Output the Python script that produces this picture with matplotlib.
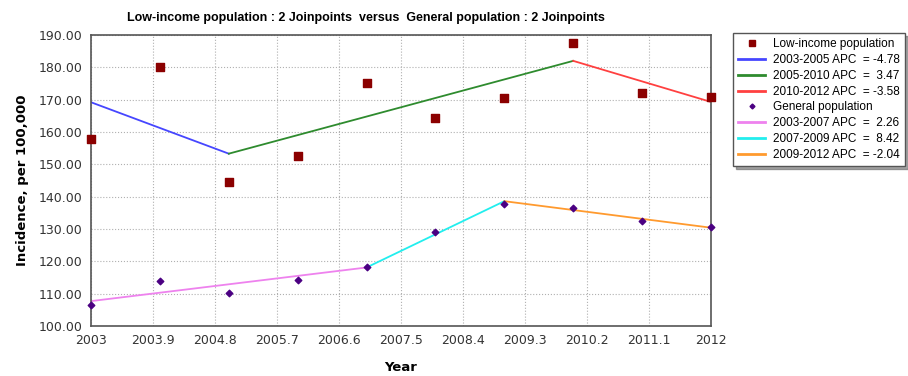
import numpy as np
import matplotlib.pyplot as plt
from matplotlib.lines import Line2D

# dados
years = [2003, 2004, 2005, 2006, 2007, 2008, 2009, 2010, 2011, 2012]
low_income = [157.7, 180.2, 144.6, 152.5, 175.3, 164.3, 170.5, 187.6, 172.0, 170.7]
general = [106.5, 113.9, 110.1, 114.2, 118.4, 129.2, 137.7, 136.4, 132.5, 130.5]

# joinpoints (ano, valor ajustado)
low_jp_years = [2003, 2005, 2010, 2012]
low_jp_values = [169.2, 153.3, 182.0, 169.3]
gen_jp_years = [2003, 2007, 2009, 2012]
gen_jp_values = [107.7, 118.1, 138.6, 130.4]

low_labels = ["2003-2005 APC  = -4.78", "2005-2010 APC  =  3.47", "2010-2012 APC  = -3.58"]
gen_labels = ["2003-2007 APC  =  2.26", "2007-2009 APC  =  8.42", "2009-2012 APC  = -2.04"]
low_colors = ["#4646ff", "#2e8b2e", "#ff4040"]
gen_colors = ["#ee82ee", "#22eeee", "#ff9a2e"]

xticks = [2003, 2003.9, 2004.8, 2005.7, 2006.6, 2007.5, 2008.4, 2009.3, 2010.2, 2011.1, 2012]
xtick_labels = ["2003", "2003.9", "2004.8", "2005.7", "2006.6", "2007.5", "2008.4",
                "2009.3", "2010.2", "2011.1", "2012"]
yticks = [100, 110, 120, 130, 140, 150, 160, 170, 180, 190]

plt.rcParams['font.family'] = ['DejaVu Sans']

fig = plt.figure(figsize=(9.08, 3.76), dpi=100)
ax = fig.add_axes([91 / 908, 1 - 326 / 376, 620 / 908, 291 / 376])

handles = []
labels = []

# linhas dos segmentos
for i in range(3):
    ax.plot(low_jp_years[i:i + 2], low_jp_values[i:i + 2], color=low_colors[i], lw=1.3, zorder=2)
    ax.plot(gen_jp_years[i:i + 2], gen_jp_values[i:i + 2], color=gen_colors[i], lw=1.3, zorder=2)

ax.scatter(years, low_income, marker='s', s=28, color='#8b0000', zorder=3, clip_on=False)
ax.scatter(years, general, marker='D', s=11, color='#4b0082', zorder=3, clip_on=False)

handles.append(Line2D([], [], ls='', marker='s', ms=4, color='#8b0000'))
labels.append("Low-income population")
for c, l in zip(low_colors, low_labels):
    handles.append(Line2D([], [], color=c, lw=2))
    labels.append(l)
handles.append(Line2D([], [], ls='', marker='D', ms=2.5, color='#4b0082'))
labels.append("General population")
for c, l in zip(gen_colors, gen_labels):
    handles.append(Line2D([], [], color=c, lw=2))
    labels.append(l)

ax.set_xlim(2003, 2012)
ax.set_ylim(100, 190)
ax.set_xticks(xticks)
ax.set_xticklabels(xtick_labels)
ax.set_yticks(yticks)
ax.set_yticklabels(["%.2f" % v for v in yticks])
ax.tick_params(length=0, labelsize=9, colors='#333333', pad=6)
ax.grid(True, ls=':', color='#b0b0b0', lw=0.8)
for s in ax.spines.values():
    s.set_color('#555555')
    s.set_linewidth(1.2)

ax.set_xlabel("Year", fontweight='bold', fontsize=9.5, labelpad=10)
ax.set_ylabel("Incidence, per 100,000", fontweight='bold', fontsize=9.5, labelpad=7)

fig.text(366 / 908, 1 - 18 / 376,
         "Low-income population : 2 Joinpoints  versus  General population : 2 Joinpoints",
         ha='center', va='center', fontweight='bold', fontsize=9, family='Liberation Sans')

leg = fig.legend(handles, labels, loc='upper left', bbox_to_anchor=(733 / 908, 1 - 33 / 376),
                 prop={'family': 'Liberation Sans', 'size': 8.5}, frameon=True, fancybox=False,
                 shadow=True, handlelength=2.3, labelspacing=0.32, borderpad=0.45,
                 handletextpad=0.6, borderaxespad=0)
leg.get_frame().set_edgecolor('#555555')
leg.get_frame().set_linewidth(1)

fig.savefig("out.png", dpi=100)
